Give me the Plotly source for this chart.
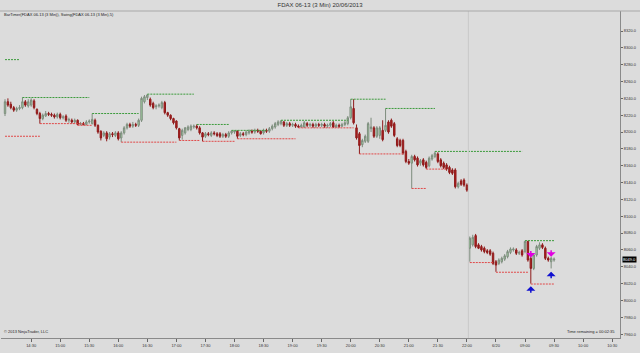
import plotly.graph_objects as go

# ---------------- data ----------------
opens = [8222, 8236, 8233, 8229, 8226, 8228, 8229, 8236, 8231, 8232,
         8237, 8227, 8222, 8216, 8219, 8222, 8221, 8220, 8218, 8221,
         8217, 8219, 8214, 8214, 8212, 8214, 8209, 8210, 8209, 8212,
         8210, 8214, 8208, 8201, 8196, 8199, 8194, 8198, 8196, 8199,
         8193, 8199, 8205, 8209, 8207, 8209, 8208, 8214, 8236, 8241,
         8239, 8234, 8230, 8231, 8229, 8235, 8223, 8220, 8216, 8213,
         8204, 8196, 8199, 8203, 8203, 8206, 8207, 8205, 8199, 8195,
         8198, 8196, 8199, 8198, 8198, 8195, 8197, 8195, 8199, 8200,
         8201, 8196, 8198, 8197, 8199, 8201, 8200, 8202, 8201, 8199,
         8202, 8201, 8204, 8206, 8209, 8210, 8212, 8208, 8210, 8208,
         8209, 8207, 8206, 8206, 8210, 8208, 8209, 8207, 8209, 8208,
         8209, 8207, 8208, 8211, 8206, 8208, 8207, 8209, 8210, 8217,
         8228, 8205, 8198, 8185, 8189, 8189, 8204, 8205, 8195, 8196,
         8202, 8202, 8212, 8214, 8210, 8192, 8190, 8190, 8177, 8165,
         8163, 8171, 8169, 8163, 8167, 8164, 8160, 8168, 8171, 8174,
         8167, 8163, 8161, 8158, 8155, 8155, 8135, 8142, 8143, 8137,
         8062, 8066, 8077, 8066, 8064, 8062, 8059, 8059, 8056, 8046,
         8044, 8046, 8049, 8052, 8057, 8060, 8060, 8056, 8059, 8058,
         8070, 8050, 8038, 8054, 8062, 8066, 8062, 8050, 8046, 8048]
highs = [8239, 8240, 8236, 8231, 8230, 8232, 8241, 8238, 8239, 8240,
         8239, 8228, 8224, 8222, 8225, 8224, 8223, 8222, 8223, 8223,
         8220, 8221, 8217, 8216, 8216, 8215, 8212, 8212, 8214, 8215,
         8222, 8216, 8209, 8202, 8201, 8201, 8200, 8200, 8201, 8201,
         8201, 8207, 8211, 8211, 8212, 8211, 8216, 8242, 8244, 8245,
         8241, 8236, 8233, 8234, 8237, 8237, 8224, 8221, 8217, 8214,
         8205, 8204, 8206, 8208, 8209, 8209, 8209, 8207, 8200, 8200,
         8200, 8201, 8201, 8200, 8200, 8199, 8199, 8201, 8202, 8202,
         8202, 8200, 8200, 8202, 8203, 8203, 8204, 8204, 8202, 8204,
         8204, 8206, 8209, 8212, 8214, 8214, 8213, 8212, 8212, 8211,
         8211, 8209, 8210, 8213, 8212, 8211, 8211, 8211, 8211, 8211,
         8211, 8210, 8212, 8213, 8210, 8210, 8211, 8213, 8219, 8239,
         8239, 8209, 8200, 8192, 8197, 8212, 8217, 8207, 8207, 8207,
         8214, 8228, 8214, 8216, 8212, 8194, 8192, 8192, 8179, 8168,
         8173, 8173, 8171, 8168, 8169, 8166, 8171, 8174, 8177, 8176,
         8169, 8165, 8163, 8160, 8157, 8157, 8141, 8144, 8145, 8139,
         8076, 8078, 8079, 8068, 8066, 8064, 8061, 8061, 8058, 8048,
         8050, 8052, 8055, 8060, 8063, 8063, 8062, 8059, 8061, 8071,
         8071, 8052, 8056, 8066, 8069, 8068, 8064, 8052, 8052, 8051]
lows = [8219, 8230, 8227, 8224, 8224, 8226, 8227, 8230, 8229, 8230,
        8227, 8220, 8210, 8214, 8218, 8219, 8218, 8216, 8216, 8215,
        8215, 8212, 8211, 8210, 8210, 8208, 8208, 8208, 8208, 8210,
        8209, 8206, 8198, 8190, 8194, 8189, 8191, 8194, 8194, 8190,
        8188, 8197, 8203, 8205, 8205, 8206, 8206, 8212, 8234, 8238,
        8230, 8227, 8227, 8229, 8227, 8221, 8218, 8214, 8209, 8203,
        8190, 8191, 8197, 8201, 8201, 8204, 8203, 8197, 8189, 8193,
        8195, 8194, 8196, 8194, 8193, 8193, 8193, 8193, 8197, 8198,
        8192, 8194, 8195, 8195, 8197, 8198, 8198, 8199, 8197, 8197,
        8199, 8199, 8202, 8204, 8207, 8208, 8206, 8206, 8206, 8206,
        8205, 8205, 8205, 8205, 8206, 8206, 8205, 8205, 8206, 8206,
        8205, 8205, 8206, 8205, 8205, 8205, 8206, 8207, 8208, 8215,
        8209, 8191, 8174, 8182, 8187, 8187, 8200, 8193, 8193, 8192,
        8189, 8200, 8198, 8205, 8194, 8182, 8182, 8173, 8163, 8161,
        8133, 8165, 8159, 8160, 8159, 8156, 8158, 8166, 8169, 8163,
        8158, 8156, 8154, 8150, 8149, 8133, 8133, 8136, 8135, 8129,
        8046, 8064, 8062, 8061, 8058, 8056, 8055, 8053, 8042, 8034,
        8042, 8044, 8047, 8050, 8055, 8058, 8054, 8054, 8052, 8056,
        8046, 8020, 8036, 8052, 8060, 8061, 8048, 8046, 8038, 8046]
closes = [8236, 8232, 8229, 8226, 8228, 8229, 8236, 8232, 8236, 8238,
          8229, 8222, 8216, 8220, 8222, 8221, 8220, 8218, 8221, 8217,
          8218, 8214, 8215, 8212, 8214, 8209, 8210, 8209, 8212, 8213,
          8215, 8208, 8200, 8193, 8199, 8192, 8198, 8197, 8199, 8192,
          8199, 8205, 8209, 8207, 8209, 8208, 8214, 8240, 8242, 8244,
          8232, 8229, 8231, 8232, 8235, 8223, 8220, 8216, 8211, 8205,
          8193, 8202, 8205, 8206, 8207, 8207, 8205, 8199, 8194, 8198,
          8197, 8199, 8198, 8196, 8195, 8197, 8195, 8199, 8201, 8201,
          8195, 8198, 8197, 8200, 8201, 8200, 8202, 8201, 8198, 8202,
          8201, 8204, 8207, 8210, 8212, 8213, 8208, 8210, 8208, 8209,
          8207, 8206, 8208, 8211, 8208, 8209, 8207, 8209, 8208, 8209,
          8207, 8208, 8210, 8206, 8208, 8207, 8209, 8211, 8217, 8230,
          8211, 8193, 8184, 8190, 8195, 8210, 8206, 8195, 8205, 8205,
          8191, 8208, 8200, 8207, 8196, 8184, 8184, 8175, 8165, 8163,
          8171, 8167, 8161, 8166, 8161, 8158, 8169, 8172, 8175, 8165,
          8160, 8158, 8156, 8152, 8151, 8135, 8139, 8138, 8137, 8131,
          8074, 8075, 8064, 8062, 8060, 8058, 8057, 8055, 8044, 8042,
          8048, 8050, 8053, 8058, 8061, 8061, 8056, 8057, 8054, 8070,
          8048, 8038, 8054, 8064, 8066, 8063, 8050, 8048, 8050, 8049]
bar_index = list(range(len(opens)))

# swing highs / lows: price, first bar, last bar
hi_price = [8286, 8241, 8222, 8245, 8209, 8202, 8214, 8239, 8228, 8177, 8071]
hi_start = [0, 6, 30, 49, 66, 78, 95, 119, 131, 148, 179]
hi_end = [5, 29, 46, 65, 77, 90, 118, 131, 148, 178, 189]
lo_price = [8195, 8210, 8208, 8188, 8190, 8189, 8192, 8205, 8174, 8133, 8156,
            8045, 8033.5, 8019.5]
lo_start = [0, 12, 25, 40, 60, 68, 80, 101, 122, 140, 145, 160, 169, 181]
lo_end = [12, 27, 30, 59, 67, 79, 100, 120, 137, 145, 152, 168, 180, 189]

# signal arrows (tip price)
sig_down_idx = [181, 188]
sig_down_price = [8051, 8052]
sig_up_idx = [181, 188]
sig_up_price = [8017, 8034]

x_tick_pos = [9, 19, 29, 39, 49, 59, 69, 79, 89, 99, 109, 119, 129, 139,
              149, 159, 169, 179, 189, 199, 209]
x_tick_labels = ["14:30", "15:00", "15:30", "16:00", "16:30", "17:00", "17:30",
                 "18:00", "18:30", "19:00", "19:30", "20:00", "20:30", "21:00",
                 "21:30", "22:00", "6/20", "09:00", "09:30", "10:00", "10:30"]
y_tick_vals = [7960, 7980, 8000, 8020, 8040, 8060, 8080, 8100, 8120, 8140,
               8160, 8180, 8200, 8220, 8240, 8260, 8280, 8300, 8320]
session_break = 159.5
current_price = closes[-1]

FONT = "Liberation Sans, Arial, sans-serif"
BG = "#dcdcdc"

fig = go.Figure()


def seg_xy(starts, ends, prices):
    xs, ys = [], []
    for s, e, p in zip(starts, ends, prices):
        xs += [s, e, None]
        ys += [p, p, None]
    return xs, ys


hx, hy = seg_xy(hi_start, hi_end, hi_price)
lx, ly = seg_xy(lo_start, lo_end, lo_price)
fig.add_trace(go.Scatter(x=hx, y=hy, mode="lines", showlegend=False,
                         line=dict(color="#3a9a3a", width=1, dash="2px,1px"),
                         hoverinfo="skip"))
fig.add_trace(go.Scatter(x=lx, y=ly, mode="lines", showlegend=False,
                         line=dict(color="#e04848", width=1, dash="2px,1px"),
                         hoverinfo="skip"))

fig.add_trace(go.Candlestick(
    x=bar_index, open=opens, high=highs, low=lows, close=closes,
    increasing=dict(line=dict(color="#7d8c7d", width=1), fillcolor="#a6daa6"),
    decreasing=dict(line=dict(color="#8e1a1a", width=1), fillcolor="#b41f1f"),
    whiskerwidth=0, showlegend=False))

annotations = []
for xi, p in zip(sig_down_idx, sig_down_price):
    annotations.append(dict(x=xi, y=p, xref="x", yref="y", ax=0, ay=-8,
                            showarrow=True, arrowhead=1, arrowsize=1,
                            arrowwidth=1.5, arrowcolor="#e000e0", text=""))
for xi, p in zip(sig_up_idx, sig_up_price):
    annotations.append(dict(x=xi, y=p, xref="x", yref="y", ax=0, ay=8,
                            showarrow=True, arrowhead=1, arrowsize=1,
                            arrowwidth=1.5, arrowcolor="#1010d0", text=""))

annotations += [
    dict(text="BarTimer(FDAX 06-13 (3 Min)), Swing(FDAX 06-13 (3 Min),5)",
         xref="paper", yref="paper", x=0.002, y=0.988, xanchor="left",
         yanchor="middle", showarrow=False,
         font=dict(family=FONT, size=4, color="#222")),
    dict(text="© 2013 NinjaTrader, LLC", xref="paper", yref="paper",
         x=0.002, y=0.02, xanchor="left", yanchor="middle", showarrow=False,
         font=dict(family=FONT, size=4, color="#222")),
    dict(text="Time remaining = 00:02:35", xref="paper", yref="paper",
         x=0.995, y=0.02, xanchor="right", yanchor="middle", showarrow=False,
         font=dict(family=FONT, size=4, color="#222")),
    dict(text="%.1f" % current_price, xref="paper", yref="y", x=1.003,
         y=current_price, xanchor="left", yanchor="middle", showarrow=False,
         bgcolor="#000000", borderpad=0,
         font=dict(family=FONT, size=4, color="#ffffff")),
]

shapes = [
    dict(type="line", xref="x", yref="paper", x0=session_break, x1=session_break,
         y0=0, y1=1, line=dict(color="#c9c9c9", width=1)),
    dict(type="line", xref="paper", yref="paper", x0=-0.01, x1=1.04, y0=1, y1=1,
         line=dict(color="#a8a8a8", width=1)),
]

fig.update_layout(
    width=640, height=353,
    margin=dict(l=1, r=20, t=11, b=15),
    paper_bgcolor=BG, plot_bgcolor=BG,
    title=dict(text="FDAX 06-13 (3 Min) 20/06/2013", x=0.5, xref="container",
               y=0.986, yref="container", xanchor="center", yanchor="middle",
               font=dict(family=FONT, size=6, color="#333")),
    annotations=annotations, shapes=shapes,
    xaxis=dict(range=[-1.38, 211.7], tickvals=x_tick_pos, ticktext=x_tick_labels,
               ticks="outside", ticklen=3, tickcolor="#666", showgrid=False,
               zeroline=False, showline=True, linecolor="#8a8a8a", linewidth=1,
               tickfont=dict(family=FONT, size=4, color="#333"),
               rangeslider=dict(visible=False)),
    yaxis=dict(side="right", range=[7955.4, 8343.75], tickvals=y_tick_vals,
               ticktext=["%.1f" % v for v in y_tick_vals], ticks="outside",
               ticklen=2, tickcolor="#666", showgrid=False, zeroline=False,
               showline=True, linecolor="#8a8a8a", linewidth=1,
               tickfont=dict(family=FONT, size=4, color="#333")),
    hovermode=False,
)

fig.write_html("out.html")
